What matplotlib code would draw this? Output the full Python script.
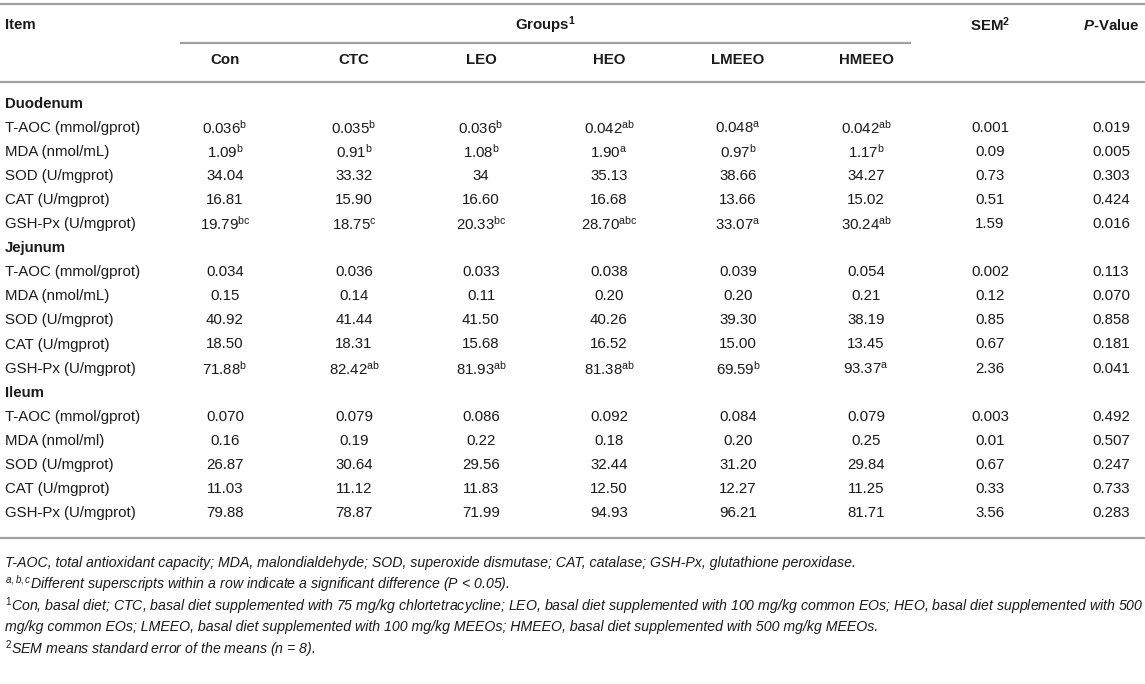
import matplotlib
matplotlib.use("Agg")
import matplotlib.pyplot as plt

plt.rcParams['font.family'] = ['Liberation Sans', 'DejaVu Sans']
plt.rcParams['mathtext.fontset'] = 'custom'
plt.rcParams['mathtext.rm'] = 'Liberation Sans'
plt.rcParams['mathtext.it'] = 'Liberation Sans:italic'
plt.rcParams['mathtext.bf'] = 'Liberation Sans:bold'
plt.rcParams['mathtext.bfit'] = 'Liberation Sans:italic:bold'

# ---------------- data ----------------
groups = ['Con', 'CTC', 'LEO', 'HEO', 'LMEEO', 'HMEEO']
sections = ['Duodenum', 'Jejunum', 'Ileum']

duodenum_items = ['T-AOC (mmol/gprot)', 'MDA (nmol/mL)', 'SOD (U/mgprot)',
                  'CAT (U/mgprot)', 'GSH-Px (U/mgprot)']
duodenum_values = [
    ['0.036', '0.035', '0.036', '0.042', '0.048', '0.042'],
    ['1.09', '0.91', '1.08', '1.90', '0.97', '1.17'],
    ['34.04', '33.32', '34', '35.13', '38.66', '34.27'],
    ['16.81', '15.90', '16.60', '16.68', '13.66', '15.02'],
    ['19.79', '18.75', '20.33', '28.70', '33.07', '30.24'],
]
duodenum_sup = [
    ['b', 'b', 'b', 'ab', 'a', 'ab'],
    ['b', 'b', 'b', 'a', 'b', 'b'],
    ['', '', '', '', '', ''],
    ['', '', '', '', '', ''],
    ['bc', 'c', 'bc', 'abc', 'a', 'ab'],
]
duodenum_sem = ['0.001', '0.09', '0.73', '0.51', '1.59']
duodenum_p = ['0.019', '0.005', '0.303', '0.424', '0.016']

jejunum_items = ['T-AOC (mmol/gprot)', 'MDA (nmol/mL)', 'SOD (U/mgprot)',
                 'CAT (U/mgprot)', 'GSH-Px (U/mgprot)']
jejunum_values = [
    ['0.034', '0.036', '0.033', '0.038', '0.039', '0.054'],
    ['0.15', '0.14', '0.11', '0.20', '0.20', '0.21'],
    ['40.92', '41.44', '41.50', '40.26', '39.30', '38.19'],
    ['18.50', '18.31', '15.68', '16.52', '15.00', '13.45'],
    ['71.88', '82.42', '81.93', '81.38', '69.59', '93.37'],
]
jejunum_sup = [
    ['', '', '', '', '', ''],
    ['', '', '', '', '', ''],
    ['', '', '', '', '', ''],
    ['', '', '', '', '', ''],
    ['b', 'ab', 'ab', 'ab', 'b', 'a'],
]
jejunum_sem = ['0.002', '0.12', '0.85', '0.67', '2.36']
jejunum_p = ['0.113', '0.070', '0.858', '0.181', '0.041']

ileum_items = ['T-AOC (mmol/gprot)', 'MDA (nmol/ml)', 'SOD (U/mgprot)',
               'CAT (U/mgprot)', 'GSH-Px (U/mgprot)']
ileum_values = [
    ['0.070', '0.079', '0.086', '0.092', '0.084', '0.079'],
    ['0.16', '0.19', '0.22', '0.18', '0.20', '0.25'],
    ['26.87', '30.64', '29.56', '32.44', '31.20', '29.84'],
    ['11.03', '11.12', '11.83', '12.50', '12.27', '11.25'],
    ['79.88', '78.87', '71.99', '94.93', '96.21', '81.71'],
]
ileum_sup = [['', '', '', '', '', ''] for _ in range(5)]
ileum_sem = ['0.003', '0.01', '0.67', '0.33', '3.56']
ileum_p = ['0.492', '0.507', '0.247', '0.733', '0.283']

footnotes = [
    'T-AOC, total antioxidant capacity; MDA, malondialdehyde; SOD, superoxide dismutase; CAT, catalase; GSH-Px, glutathione peroxidase.',
    r'$^{\mathit{a,b,c}}$Different superscripts within a row indicate a significant difference (P < 0.05).',
    r'$^{\mathit{1}}$Con, basal diet; CTC, basal diet supplemented with 75 mg/kg chlortetracycline; LEO, basal diet supplemented with 100 mg/kg common EOs; HEO, basal diet supplemented with 500',
    'mg/kg common EOs; LMEEO, basal diet supplemented with 100 mg/kg MEEOs; HMEEO, basal diet supplemented with 500 mg/kg MEEOs.',
    r'$^{\mathit{2}}$SEM means standard error of the means (n = 8).',
]

# ---------------- layout ----------------
W, H = 1145, 684
fig = plt.figure(figsize=(W / 100, H / 100), dpi=100)
ax = fig.add_axes([0, 0, 1, 1])
ax.set_xlim(0, W)
ax.set_ylim(H, 0)
ax.axis('off')

txt = '#1a1a1a'
line_c = '#a0a0a0'
fs = 10.8
col_x = [225, 354, 481, 609, 738, 866]
sem_x = 990
p_x = 1111
left_x = 5

# rules
for xs, ys in [([0, W], [4, 4]), ([180, 911], [43, 43]), ([0, W], [82, 82]), ([0, W], [538, 538])]:
    ax.plot(xs, ys, color=line_c, lw=1.6, solid_capstyle='butt')

# header
ax.text(left_x, 25, 'Item', fontsize=fs, fontweight='bold', color=txt, ha='left', va='center')
ax.text(545, 25, r'Groups$^{\mathbf{1}}$', fontsize=fs, fontweight='bold', color=txt, ha='center', va='center')
ax.text(sem_x, 25, r'SEM$^{\mathbf{2}}$', fontsize=fs, fontweight='bold', color=txt, ha='center', va='center')
ax.text(p_x, 25, r'$\mathbfit{P}$-Value', fontsize=fs, fontweight='bold', color=txt, ha='center', va='center')
for g, x in zip(groups, col_x):
    ax.text(x, 60, g, fontsize=fs, fontweight='bold', color=txt, ha='center', va='center')

# body
blocks = [
    (duodenum_items, duodenum_values, duodenum_sup, duodenum_sem, duodenum_p),
    (jejunum_items, jejunum_values, jejunum_sup, jejunum_sem, jejunum_p),
    (ileum_items, ileum_values, ileum_sup, ileum_sem, ileum_p),
]
y0 = 104
pitch = 24.05
r = 0
for name, (items, vals, sups, sems, ps) in zip(sections, blocks):
    y = y0 + r * pitch
    ax.text(left_x, y, name, fontsize=fs, fontweight='bold', color=txt, ha='left', va='center')
    r += 1
    for i in range(len(items)):
        y = y0 + r * pitch
        ax.text(left_x, y, items[i], fontsize=fs, color=txt, ha='left', va='center')
        for j, x in enumerate(col_x):
            s = vals[i][j]
            if sups[i][j]:
                s = s + r'$^{\mathrm{' + sups[i][j] + '}}$'
            ax.text(x, y, s, fontsize=fs, color=txt, ha='center', va='center')
        ax.text(sem_x, y, sems[i], fontsize=fs, color=txt, ha='center', va='center')
        ax.text(p_x, y, ps[i], fontsize=fs, color=txt, ha='center', va='center')
        r += 1

# footnotes
fy = [563, 584, 606, 627, 649]
for t, y in zip(footnotes, fy):
    ax.text(left_x, y, t, fontsize=10.15, style='italic', color=txt, ha='left', va='center')

fig.savefig('out.png', dpi=100)
